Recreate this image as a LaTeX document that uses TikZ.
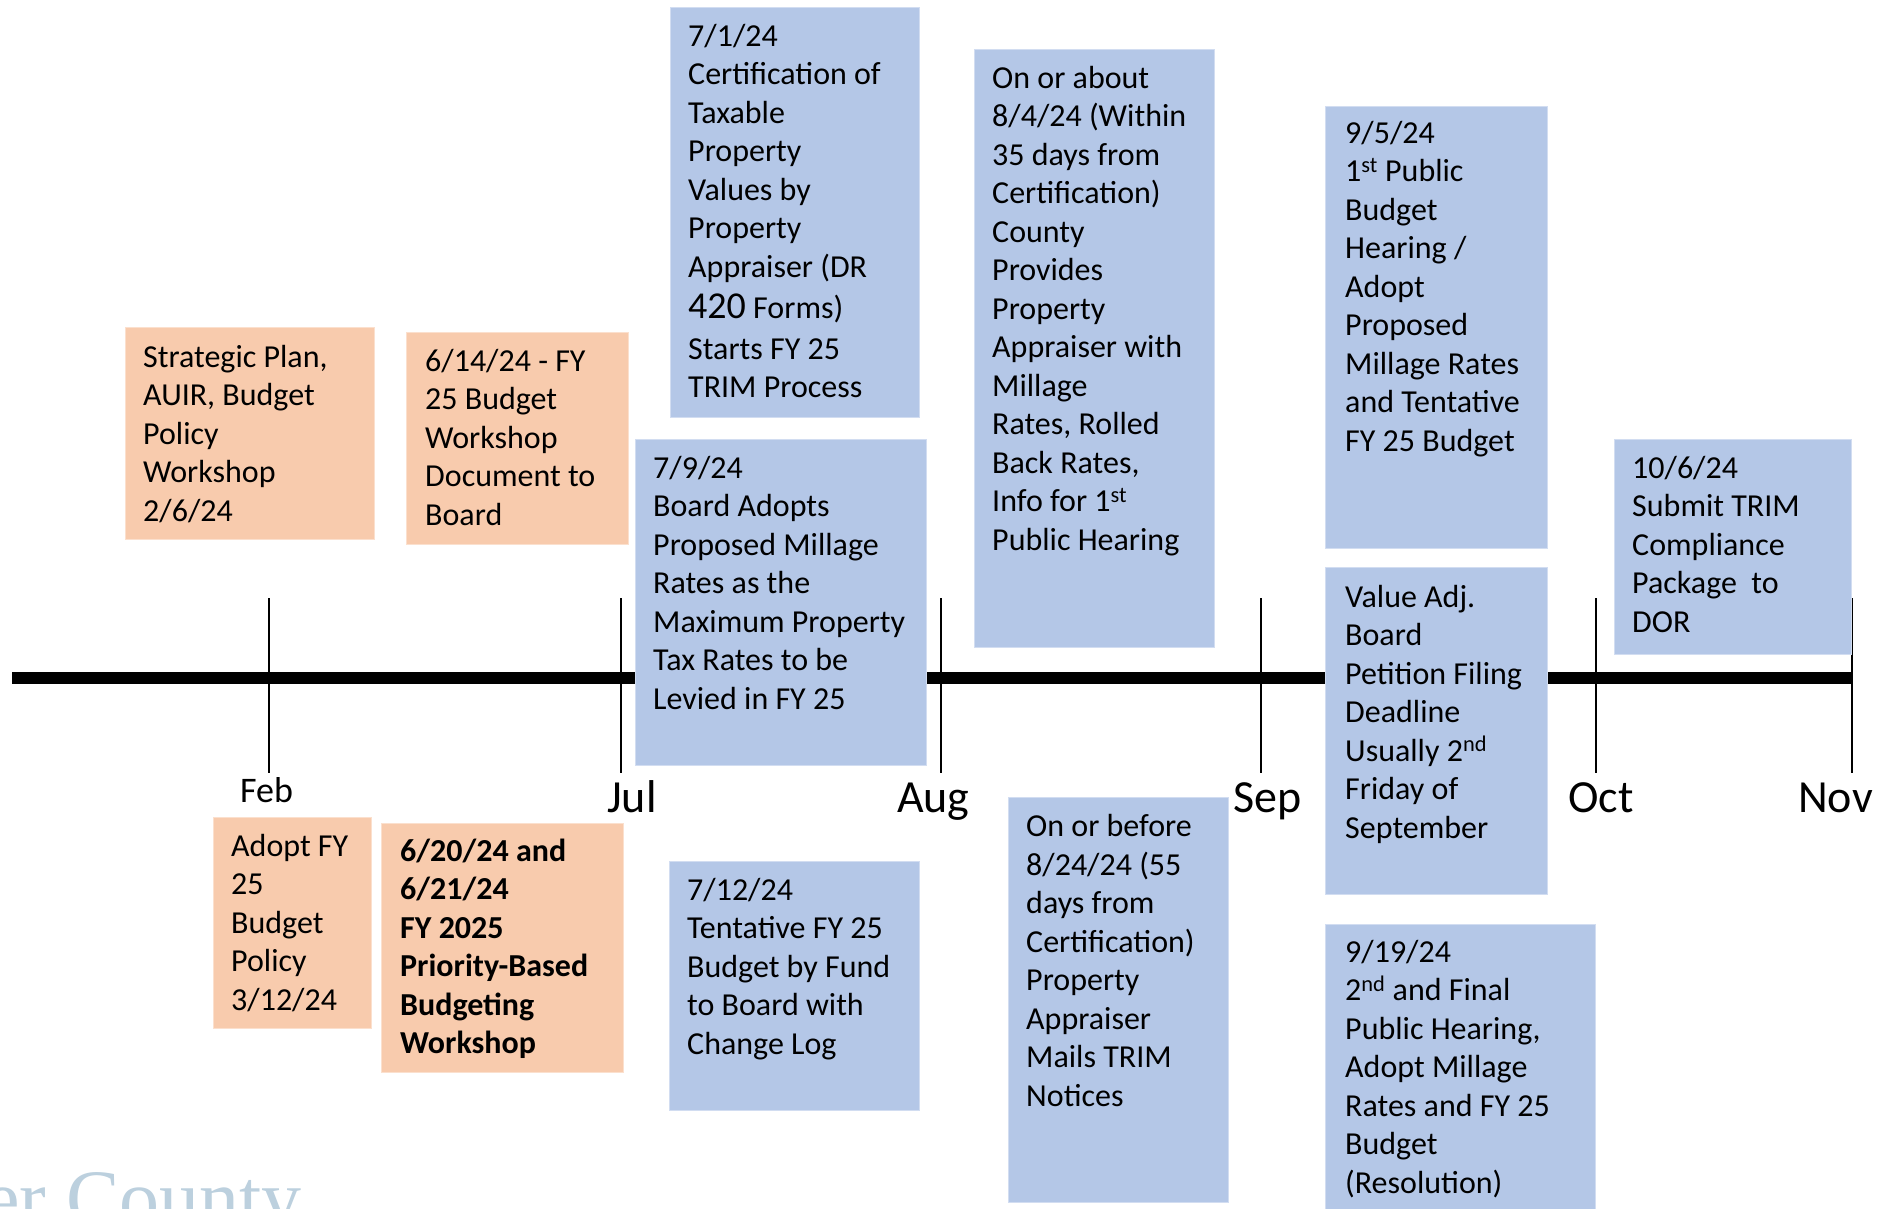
\documentclass[tikz,border=0pt]{standalone}
\usepackage{fontspec}
\setmainfont{Carlito}
\newfontfamily\wmfont{Liberation Serif}
\definecolor{peach}{RGB}{248,203,173}
\definecolor{bluebox}{RGB}{180,199,231}
\definecolor{wmcol}{RGB}{188,208,222}
\begin{document}
\begin{tikzpicture}[x=1pt,y=1pt,
  pbox/.style={fill=peach, draw=peach!60!white, line width=0.8pt, anchor=north west, inner sep=0pt, outer sep=0pt},
  bbox/.style={fill=bluebox, draw=bluebox!60!white, line width=0.8pt, anchor=north west, inner sep=0pt, outer sep=0pt},
  txt/.style={anchor=base west, align=left, inner sep=0pt, font=\fontsize{32}{38.5}\selectfont},
  month/.style={anchor=base west, inner sep=0pt, font=\fontsize{46}{50}\selectfont},
  tick/.style={line width=2.5pt, black},
  axis/.style={line width=12pt, black}]
\clip (0,0) rectangle (1886,-1208);
\fill[white] (0,0) rectangle (1886,-1208);
% watermark
\node[anchor=base west, inner sep=0pt, text=wmcol, font=\wmfont\fontsize{80}{80}\selectfont] (wm) at (-16,-1225) {er County};
% timeline
\coordinate (tlL) at (12,-678);
\coordinate (tlR) at (1853,-678);
\draw[axis] (tlL) -- (tlR);
\foreach \x/\n in {269/feb,621/jul,941/aug,1261/sep,1596/oct,1852/nov}{
  \coordinate (t\n a) at (\x,-598);
  \coordinate (t\n b) at (\x,-773);
  \draw[tick] (t\n a) -- (t\n b);
}
% month labels
\node[month, font=\fontsize{36}{40}\selectfont] (mfeb) at (240,-802) {Feb};
\node[month] (mjul) at (607,-812) {Jul};
\node[month] (maug) at (897,-812) {Aug};
\node[month] (msep) at (1233,-812) {Sep};
\node[month] (moct) at (1568,-812) {Oct};
\node[month] (mnov) at (1798,-812) {Nov};
% boxes
\node[pbox, minimum width=249pt, minimum height=212pt] (b1) at (125,-327) {};
\node[pbox, minimum width=222pt, minimum height=212pt] (b2) at (406,-332) {};
\node[bbox, minimum width=249pt, minimum height=410pt] (b3) at (670,-7) {};
\node[bbox, minimum width=291pt, minimum height=326pt] (b4) at (635,-439) {};
\node[bbox, minimum width=240pt, minimum height=598pt] (b5) at (974,-49) {};
\node[bbox, minimum width=222pt, minimum height=442pt] (b6) at (1325,-106) {};
\node[bbox, minimum width=222pt, minimum height=327pt] (b7) at (1325,-567) {};
\node[bbox, minimum width=237pt, minimum height=215pt] (b8) at (1614,-439) {};
\node[pbox, minimum width=158pt, minimum height=211pt] (b9) at (213,-817) {};
\node[pbox, minimum width=242pt, minimum height=249pt] (b10) at (381,-823) {};
\node[bbox, minimum width=250pt, minimum height=249pt] (b11) at (669,-861) {};
\node[bbox, minimum width=220pt, minimum height=405pt] (b12) at (1008,-797) {};
\node[bbox, minimum width=270pt, minimum height=320pt] (b13) at (1325,-924) {};
% texts (anchored at the baseline of their last line)
\node[txt] (t1) at (143,-521) {Strategic Plan,\\AUIR, Budget\\Policy\\Workshop\\2/6/24};
\node[txt] (t2) at (425,-525) {6/14/24 - FY\\25 Budget\\Workshop\\Document to\\Board};
\node[txt] (t3) at (688,-397.5) {7/1/24\\Certification of\\Taxable\\Property\\Values by\\Property\\Appraiser (DR\\[2.5pt]{\fontsize{38}{40}\selectfont 420} Forms)\\[2.5pt]Starts FY 25\\TRIM Process};
\node[txt] (t4) at (653,-709) {7/9/24\\Board Adopts\\Proposed Millage\\Rates as the\\Maximum Property\\Tax Rates to be\\Levied in FY 25};
\node[txt] (t5) at (992,-550) {On or about\\8/4/24 (Within\\35 days from\\Certification)\\County\\Provides\\Property\\Appraiser with\\Millage\\Rates, Rolled\\Back Rates,\\Info for 1\textsuperscript{st}\\Public Hearing};
\node[txt] (t6) at (1345,-451) {9/5/24\\1\textsuperscript{st} Public\\Budget\\Hearing /\\Adopt\\Proposed\\Millage Rates\\and Tentative\\FY 25 Budget};
\node[txt] (t7) at (1345,-838) {Value Adj.\\Board\\Petition Filing\\Deadline\\Usually 2\textsuperscript{nd}\\Friday of\\September};
\node[txt] (t8) at (1632,-632) {10/6/24\\Submit TRIM\\Compliance\\Package\ \ to\\DOR};
\node[txt] (t9) at (231,-1010) {Adopt FY\\25\\Budget\\Policy\\3/12/24};
\node[txt, font=\fontsize{32}{38.5}\selectfont\bfseries] (t10) at (400,-1053.5) {6/20/24 and\\6/21/24\\FY 2025\\Priority-Based\\Budgeting\\Workshop};
\node[txt] (t11) at (687,-1054) {7/12/24\\Tentative FY 25\\Budget by Fund\\to Board with\\Change Log};
\node[txt] (t12) at (1026,-1106) {On or before\\8/24/24 (55\\days from\\Certification)\\Property\\Appraiser\\Mails TRIM\\Notices};
\node[txt] (t13) at (1345,-1193) {9/19/24\\2\textsuperscript{nd} and Final\\Public Hearing,\\Adopt Millage\\Rates and FY 25\\Budget\\(Resolution)};
\end{tikzpicture}
\end{document}
